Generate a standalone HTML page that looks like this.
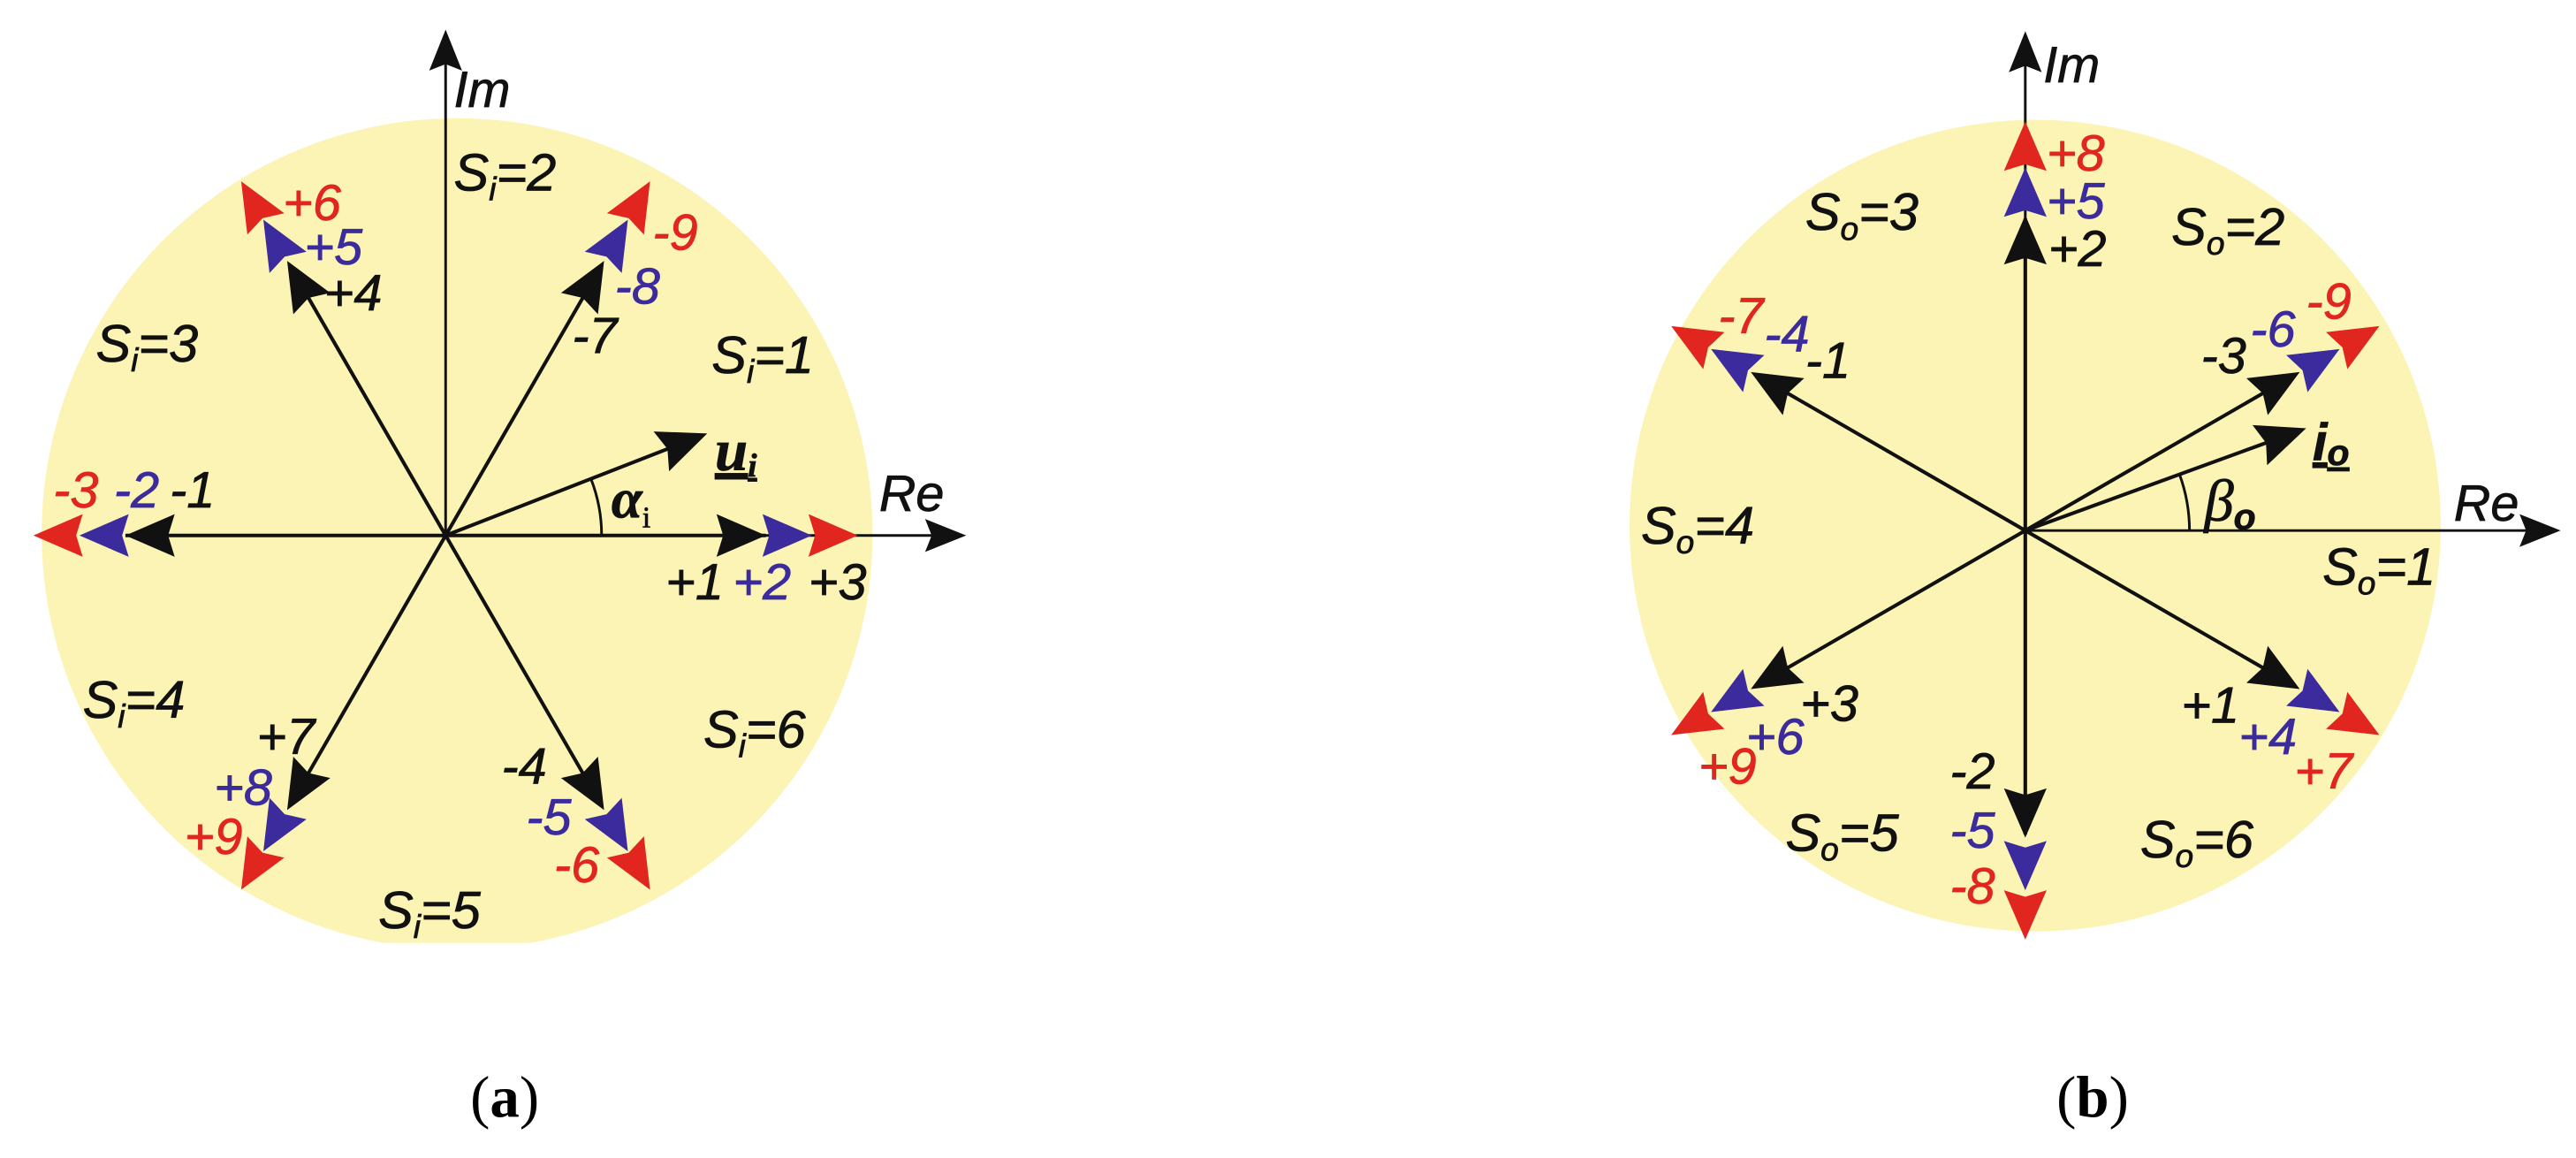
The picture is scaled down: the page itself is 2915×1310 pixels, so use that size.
<!DOCTYPE html>
<html><head><meta charset="utf-8"><style>
html,body{margin:0;padding:0;background:#fff;}
svg{display:block;}
text{font-family:"Liberation Sans",sans-serif;font-style:italic;font-size:31px;}
.r{fill:#E0261F}.b{fill:#3B2B9C}.k{fill:#111}
.r,.b,.k{stroke-width:0.4px}
text.r{stroke:#E0261F}text.b{stroke:#3B2B9C}text.k{stroke:#111}
.s{font-size:32px}
.sub{font-size:20px}
</style></head><body>
<svg width="2915" height="1310" viewBox="0 0 1568 705" xmlns="http://www.w3.org/2000/svg">
<defs>
<clipPath id="c1"><rect x="0" y="0" width="780" height="574"/></clipPath>
<clipPath id="c2"><rect x="780" y="0" width="788" height="574"/></clipPath>
</defs>
<circle cx="278" cy="325" r="253" fill="#FBF4B4" clip-path="url(#c1)"/>
<circle cx="1239" cy="320" r="247" fill="#FBF4B4" clip-path="url(#c2)"/>

<!-- LEFT -->
<g transform="translate(271,326)">
 <line x1="0" y1="0" x2="0" y2="-290" stroke="#111" stroke-width="1.6"/>
 <polygon points="0,-308 -10,-283 0,-287 10,-283" fill="#111"/>
 <line x1="0" y1="0" x2="300" y2="0" stroke="#111" stroke-width="1.6"/>
 <polygon points="317,0 292,-10 296,0 292,10" fill="#111"/>
 <g transform="rotate(0)">
  <line x1="0" y1="0" x2="195" y2="0" stroke="#111" stroke-width="2.2"/>
  <polygon points="251,0 221,-13 225,0 221,13" class="r"/>
  <polygon points="223,0 193,-13 197,0 193,13" class="b"/>
  <polygon points="195,0 165,-13 169,0 165,13" class="k"/>
 </g>
 <g transform="rotate(180)">
  <line x1="0" y1="0" x2="195" y2="0" stroke="#111" stroke-width="2.2"/>
  <polygon points="251,0 221,-13 225,0 221,13" class="r"/>
  <polygon points="223,0 193,-13 197,0 193,13" class="b"/>
  <polygon points="195,0 165,-13 169,0 165,13" class="k"/>
 </g>
 <g transform="rotate(-120)">
  <line x1="0" y1="0" x2="190" y2="0" stroke="#111" stroke-width="2.2"/>
  <polygon points="249,0 219,-13 223,0 219,13" class="r"/>
  <polygon points="222,0 192,-13 196,0 192,13" class="b"/>
  <polygon points="193,0 163,-13 167,0 163,13" class="k"/>
 </g>
 <g transform="rotate(-60)">
  <line x1="0" y1="0" x2="190" y2="0" stroke="#111" stroke-width="2.2"/>
  <polygon points="249,0 219,-13 223,0 219,13" class="r"/>
  <polygon points="222,0 192,-13 196,0 192,13" class="b"/>
  <polygon points="193,0 163,-13 167,0 163,13" class="k"/>
 </g>
 <g transform="rotate(120)">
  <line x1="0" y1="0" x2="190" y2="0" stroke="#111" stroke-width="2.2"/>
  <polygon points="249,0 219,-13 223,0 219,13" class="r"/>
  <polygon points="222,0 192,-13 196,0 192,13" class="b"/>
  <polygon points="193,0 163,-13 167,0 163,13" class="k"/>
 </g>
 <g transform="rotate(60)">
  <line x1="0" y1="0" x2="190" y2="0" stroke="#111" stroke-width="2.2"/>
  <polygon points="249,0 219,-13 223,0 219,13" class="r"/>
  <polygon points="222,0 192,-13 196,0 192,13" class="b"/>
  <polygon points="193,0 163,-13 167,0 163,13" class="k"/>
 </g>
 <g transform="rotate(-21.3)">
  <line x1="0" y1="0" x2="150" y2="0" stroke="#111" stroke-width="2.2"/>
  <polygon points="171,0 141,-13 145,0 141,13" class="k"/>
 </g>
 <path d="M95,0 A95,95 0 0 0 88.5,-34.5" fill="none" stroke="#111" stroke-width="1.6"/>
</g>
<text x="276" y="65" class="k">Im</text>
<text x="535" y="311" class="k">Re</text>
<text x="276" y="116" class="k s">S<tspan class="sub" dy="6">i</tspan><tspan dy="-6">=2</tspan></text>
<text x="58" y="220" class="k s">S<tspan class="sub" dy="6">i</tspan><tspan dy="-6">=3</tspan></text>
<text x="433" y="227" class="k s">S<tspan class="sub" dy="6">i</tspan><tspan dy="-6">=1</tspan></text>
<text x="50" y="437" class="k s">S<tspan class="sub" dy="6">i</tspan><tspan dy="-6">=4</tspan></text>
<text x="428" y="455" class="k s">S<tspan class="sub" dy="6">i</tspan><tspan dy="-6">=6</tspan></text>
<text x="230" y="565" class="k s">S<tspan class="sub" dy="6">i</tspan><tspan dy="-6">=5</tspan></text>
<text x="172" y="134" class="r">+6</text>
<text x="185" y="161" class="b">+5</text>
<text x="197" y="189" class="k">+4</text>
<text x="397" y="152" class="r">-9</text>
<text x="374" y="185" class="b">-8</text>
<text x="348" y="215" class="k">-7</text>
<text x="32" y="309" class="r">-3</text>
<text x="69" y="309" class="b">-2</text>
<text x="103" y="309" class="k">-1</text>
<text x="405" y="365" class="k">+1</text>
<text x="446" y="365" class="b">+2</text>
<text x="492" y="365" class="k">+3</text>
<text x="156" y="459" class="k">+7</text>
<text x="130" y="490" class="b">+8</text>
<text x="112" y="520" class="r">+9</text>
<text x="305" y="477" class="k">-4</text>
<text x="320" y="508" class="b">-5</text>
<text x="337" y="537" class="r">-6</text>
<text x="435" y="286" class="k" style="font-weight:bold;font-family:'Liberation Serif',serif;font-size:36px;text-decoration:underline">u<tspan style="font-size:20px" dy="4">i</tspan></text>
<text x="372" y="315" class="k" style="font-weight:bold;font-family:'Liberation Serif',serif;font-size:34px">α<tspan style="font-size:18px;font-style:normal;font-weight:normal" dy="6">i</tspan></text>
<text x="286" y="680" style="font-family:'Liberation Serif',serif;font-style:normal;font-size:36px">(<tspan font-weight="bold">a</tspan>)</text>

<!-- RIGHT -->
<g transform="translate(1233,323)">
 <line x1="0" y1="0" x2="0" y2="-285" stroke="#111" stroke-width="1.6"/>
 <polygon points="0,-304 -10,-279 0,-283 10,-279" fill="#111"/>
 <line x1="0" y1="0" x2="308" y2="0" stroke="#111" stroke-width="1.6"/>
 <polygon points="326,0 301,-10 305,0 301,10" fill="#111"/>
 <g transform="rotate(-90)">
  <line x1="0" y1="0" x2="190" y2="0" stroke="#111" stroke-width="2.2"/>
  <polygon points="249,0 219,-13 223,0 219,13" class="r"/>
  <polygon points="221,0 191,-13 195,0 191,13" class="b"/>
  <polygon points="192,0 162,-13 166,0 162,13" class="k"/>
 </g>
 <g transform="rotate(90)">
  <line x1="0" y1="0" x2="185" y2="0" stroke="#111" stroke-width="2.2"/>
  <polygon points="249,0 219,-13 223,0 219,13" class="r"/>
  <polygon points="219,0 189,-13 193,0 189,13" class="b"/>
  <polygon points="187,0 157,-13 161,0 157,13" class="k"/>
 </g>
 <g transform="rotate(-30)">
  <line x1="0" y1="0" x2="190" y2="0" stroke="#111" stroke-width="2.2"/>
  <polygon points="249,0 219,-13 223,0 219,13" class="r"/>
  <polygon points="221,0 191,-13 195,0 191,13" class="b"/>
  <polygon points="193,0 163,-13 167,0 163,13" class="k"/>
 </g>
 <g transform="rotate(-150)">
  <line x1="0" y1="0" x2="190" y2="0" stroke="#111" stroke-width="2.2"/>
  <polygon points="249,0 219,-13 223,0 219,13" class="r"/>
  <polygon points="221,0 191,-13 195,0 191,13" class="b"/>
  <polygon points="193,0 163,-13 167,0 163,13" class="k"/>
 </g>
 <g transform="rotate(150)">
  <line x1="0" y1="0" x2="190" y2="0" stroke="#111" stroke-width="2.2"/>
  <polygon points="249,0 219,-13 223,0 219,13" class="r"/>
  <polygon points="221,0 191,-13 195,0 191,13" class="b"/>
  <polygon points="193,0 163,-13 167,0 163,13" class="k"/>
 </g>
 <g transform="rotate(30)">
  <line x1="0" y1="0" x2="190" y2="0" stroke="#111" stroke-width="2.2"/>
  <polygon points="249,0 219,-13 223,0 219,13" class="r"/>
  <polygon points="221,0 191,-13 195,0 191,13" class="b"/>
  <polygon points="193,0 163,-13 167,0 163,13" class="k"/>
 </g>
 <g transform="rotate(-20)">
  <line x1="0" y1="0" x2="165" y2="0" stroke="#111" stroke-width="2.2"/>
  <polygon points="182,0 152,-13 156,0 152,13" class="k"/>
 </g>
 <path d="M100,0 A100,100 0 0 0 94,-34" fill="none" stroke="#111" stroke-width="1.6"/>
</g>
<text x="1244" y="50" class="k">Im</text>
<text x="1494" y="317" class="k">Re</text>
<text x="1099" y="140" class="k s">S<tspan class="sub" dy="6">o</tspan><tspan dy="-6">=3</tspan></text>
<text x="1322" y="149" class="k s">S<tspan class="sub" dy="6">o</tspan><tspan dy="-6">=2</tspan></text>
<text x="999" y="331" class="k s">S<tspan class="sub" dy="6">o</tspan><tspan dy="-6">=4</tspan></text>
<text x="1414" y="356" class="k s">S<tspan class="sub" dy="6">o</tspan><tspan dy="-6">=1</tspan></text>
<text x="1087" y="518" class="k s">S<tspan class="sub" dy="6">o</tspan><tspan dy="-6">=5</tspan></text>
<text x="1303" y="522" class="k s">S<tspan class="sub" dy="6">o</tspan><tspan dy="-6">=6</tspan></text>
<text x="1246" y="104" class="r">+8</text>
<text x="1246" y="133" class="b">+5</text>
<text x="1247" y="162" class="k">+2</text>
<text x="1046" y="203" class="r">-7</text>
<text x="1074" y="214" class="b">-4</text>
<text x="1099" y="230" class="k">-1</text>
<text x="1340" y="227" class="k">-3</text>
<text x="1370" y="211" class="b">-6</text>
<text x="1404" y="194" class="r">-9</text>
<text x="1096" y="439" class="k">+3</text>
<text x="1063" y="459" class="b">+6</text>
<text x="1034" y="477" class="r">+9</text>
<text x="1328" y="440" class="k">+1</text>
<text x="1363" y="459" class="b">+4</text>
<text x="1397" y="480" class="r">+7</text>
<text x="1187" y="480" class="k">-2</text>
<text x="1187" y="516" class="b">-5</text>
<text x="1187" y="550" class="r">-8</text>
<text x="1408" y="280" class="k" style="font-weight:bold;font-size:32px;text-decoration:underline">i<tspan style="font-size:22px" dy="3">o</tspan></text>
<text x="1342" y="317" class="k" style="font-family:'Liberation Serif',serif;font-size:36px">β<tspan style="font-family:'Liberation Sans',sans-serif;font-size:22px;font-weight:bold" dy="5">o</tspan></text>
<text x="1252" y="680" style="font-family:'Liberation Serif',serif;font-style:normal;font-size:36px">(<tspan font-weight="bold">b</tspan>)</text>
</svg>
</body></html>
